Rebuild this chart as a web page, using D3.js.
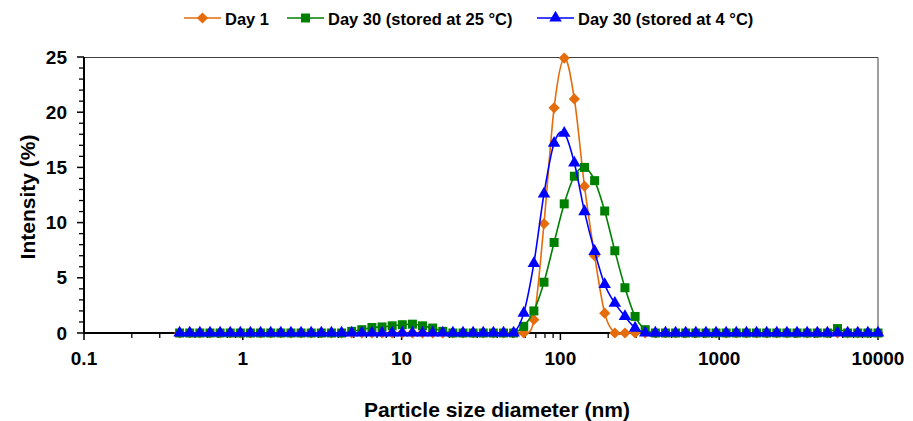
<!DOCTYPE html>
<html>
<head>
<meta charset="utf-8">
<script src="https://cdnjs.cloudflare.com/ajax/libs/d3/7.8.5/d3.min.js"></script>
<style>
  body { margin: 0; background: #fff; }
  svg text { font-family: "Liberation Sans", Arial, sans-serif; font-weight: bold; fill: #000; }
</style>
</head>
<body>
<script>
// size bins (nm)
var sizes = [0.4, 0.4632, 0.5365, 0.6213, 0.7195, 0.8332, 0.9649, 1.117, 1.294, 1.499,
  1.736, 2.01, 2.328, 2.696, 3.122, 3.615, 4.187, 4.849, 5.615, 6.503,
  7.531, 8.721, 10.1, 11.7, 13.54, 15.69, 18.17, 21.04, 24.36, 28.21,
  32.67, 37.84, 43.82, 50.75, 58.77, 68.06, 78.82, 91.28, 105.7, 122.4,
  141.8, 164.2, 190.1, 220.2, 255, 295.3, 342, 396.1, 458.7, 531.2,
  615.1, 712.4, 825, 955.4, 1106, 1281, 1484, 1718, 1990, 2305,
  2669, 3091, 3580, 4145, 4801, 5560, 6439, 7456, 8635, 10000];

var day1 = [0, 0, 0, 0, 0, 0, 0, 0, 0, 0,
  0, 0, 0, 0, 0, 0, 0, 0, 0, 0,
  0, 0, 0, 0, 0, 0, 0, 0, 0, 0,
  0, 0, 0, 0, 0, 1.2, 9.9, 20.4, 24.9, 21.2,
  13.3, 7.0, 1.8, 0, 0, 0, 0, 0, 0, 0,
  0, 0, 0, 0, 0, 0, 0, 0, 0, 0,
  0, 0, 0, 0, 0, 0, 0, 0, 0, 0];

var day30warm = [0, 0, 0, 0, 0, 0, 0, 0, 0, 0,
  0, 0, 0, 0, 0, 0, 0, 0.15, 0.3, 0.5,
  0.55, 0.65, 0.75, 0.8, 0.65, 0.45, 0.15, 0, 0, 0,
  0, 0, 0, 0, 0.6, 2.0, 4.6, 8.2, 11.7, 14.2,
  15.0, 13.8, 11.05, 7.45, 4.1, 1.5, 0.3, 0, 0, 0,
  0, 0, 0, 0, 0, 0, 0, 0, 0, 0,
  0, 0, 0, 0, 0, 0.4, 0, 0, 0, 0];

var day30cold = [0, 0, 0, 0, 0, 0, 0, 0, 0, 0,
  0, 0, 0, 0, 0, 0, 0, 0, 0, 0,
  0, 0, 0, 0, 0, 0, 0, 0, 0, 0,
  0, 0, 0, 0, 1.8, 6.3, 12.6, 17.2, 18.1, 15.4,
  11.0, 7.4, 4.4, 2.7, 1.5, 0.45, 0, 0, 0, 0,
  0, 0, 0, 0, 0, 0, 0, 0, 0, 0,
  0, 0, 0, 0, 0, 0, 0, 0, 0, 0];

var seriesNames = ["Day 1", "Day 30 (stored at 25 \u00b0C)", "Day 30 (stored at 4 \u00b0C)"];
var xTicks = [0.1, 1, 10, 100, 1000, 10000];
var yTicks = [0, 5, 10, 15, 20, 25];

var W = 913, H = 421;
var margin = {left: 84, right: 35, top: 57, bottom: 88},
    width = W - margin.left - margin.right,
    height = H - margin.top - margin.bottom;

var svg = d3.select("body").append("svg")
    .attr("width", W)
    .attr("height", H);

var g = svg.append("g")
    .attr("transform", "translate(" + margin.left + "," + margin.top + ")");

var x = d3.scaleLog().domain([0.1, 10000]).range([0, width]);
var y = d3.scaleLinear().domain([0, 25]).range([height, 0]);

// minor ticks
var xMinor = [];
for (var e = -1; e < 4; e++) {
    for (var k = 2; k <= 9; k++) xMinor.push(k * Math.pow(10, e));
}
var yMinor = d3.range(0, 26, 1).filter(function(v) { return v % 5 !== 0; });

// frame (top / right)
g.append("path")
    .attr("d", "M0,0.5H" + width + "V" + height)
    .attr("fill", "none")
    .attr("stroke", "#404040")
    .attr("stroke-width", 1);

// x axis
var gX = g.append("g").attr("transform", "translate(0," + height + ")");
gX.selectAll(".minor").data(xMinor).enter().append("line")
    .attr("x1", function(d) { return x(d); }).attr("x2", function(d) { return x(d); })
    .attr("y1", 0).attr("y2", 5)
    .attr("stroke", "#000").attr("stroke-width", 1.3);
gX.selectAll(".major").data(xTicks).enter().append("line")
    .attr("x1", function(d) { return x(d); }).attr("x2", function(d) { return x(d); })
    .attr("y1", 0).attr("y2", 7)
    .attr("stroke", "#000").attr("stroke-width", 1.5);
gX.selectAll(".lab").data(xTicks).enter().append("text")
    .attr("x", function(d) { return x(d); })
    .attr("y", 32)
    .attr("text-anchor", "middle")
    .style("font-size", "19px")
    .text(function(d) { return d; });

// y axis
var gY = g.append("g");
gY.selectAll(".minor").data(yMinor).enter().append("line")
    .attr("x1", -5).attr("x2", 0)
    .attr("y1", function(d) { return y(d); }).attr("y2", function(d) { return y(d); })
    .attr("stroke", "#000").attr("stroke-width", 1.3);
gY.selectAll(".major").data(yTicks).enter().append("line")
    .attr("x1", -7).attr("x2", 0)
    .attr("y1", function(d) { return y(d); }).attr("y2", function(d) { return y(d); })
    .attr("stroke", "#000").attr("stroke-width", 1.5);
gY.selectAll(".lab").data(yTicks).enter().append("text")
    .attr("x", -17)
    .attr("y", function(d) { return y(d); })
    .attr("dy", "0.35em")
    .attr("text-anchor", "end")
    .style("font-size", "19px")
    .text(function(d) { return d; });

// axis lines
g.append("line").attr("x1", 0).attr("x2", width).attr("y1", height).attr("y2", height)
    .attr("stroke", "#000").attr("stroke-width", 2);
g.append("line").attr("x1", 0).attr("x2", 0).attr("y1", 0).attr("y2", height)
    .attr("stroke", "#000").attr("stroke-width", 2);

// titles
svg.append("text")
    .attr("x", 497).attr("y", 417)
    .attr("text-anchor", "middle")
    .style("font-size", "21px")
    .text("Particle size diameter (nm)");
svg.append("text")
    .attr("transform", "translate(35,197) rotate(-90)")
    .attr("text-anchor", "middle")
    .style("font-size", "21px")
    .text("Intensity (%)");

// markers: square-ish diamond like Excel
var diamond = "M0,-5.6L5.6,0L0,5.6L-5.6,0Z";
var square = d3.symbol().type(d3.symbolSquare).size(81)();
var triangle = d3.symbol().type(d3.symbolTriangle).size(68)();

var series = [
    {name: seriesNames[0], values: day1, color: "#e46c0a", marker: diamond},
    {name: seriesNames[1], values: day30warm, color: "#008000", marker: square},
    {name: seriesNames[2], values: day30cold, color: "#0000ff", marker: triangle}
];

var line = d3.line()
    .x(function(d) { return x(d.s); })
    .y(function(d) { return y(d.v); })
    .curve(d3.curveCatmullRom.alpha(0));

series.forEach(function(sr) {
    var pts = sizes.map(function(s, i) { return {s: s, v: sr.values[i]}; });
    g.append("path")
        .datum(pts)
        .attr("d", line)
        .attr("fill", "none")
        .attr("stroke", sr.color)
        .attr("stroke-width", 1.6);
    g.selectAll(null).data(pts).enter().append("path")
        .attr("transform", function(d) { return "translate(" + x(d.s) + "," + y(d.v) + ")"; })
        .attr("d", sr.marker)
        .attr("fill", sr.color);
});

// legend
var legendX = [184, 287, 537];
var leg = svg.append("g");
series.forEach(function(sr, i) {
    var lg = leg.append("g").attr("transform", "translate(" + legendX[i] + ",18)");
    lg.append("line").attr("x1", 0).attr("x2", 37).attr("y1", 0).attr("y2", 0)
        .attr("stroke", sr.color).attr("stroke-width", 1.6);
    lg.append("path").attr("transform", "translate(18.5,0)")
        .attr("d", sr.marker)
        .attr("fill", sr.color);
    lg.append("text").attr("x", 41).attr("y", 6.5)
        .style("font-size", "16.5px")
        .text(sr.name);
});
</script>
</body>
</html>
